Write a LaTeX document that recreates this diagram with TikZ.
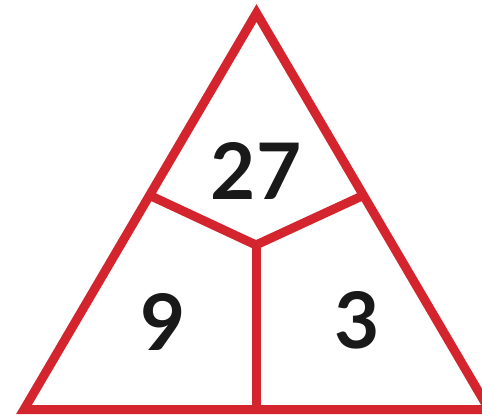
\documentclass[tikz,border=0pt]{standalone}
\usepackage{fontspec}
\setmainfont{Lato}
\usetikzlibrary{positioning}
\definecolor{trired}{RGB}{212,36,46}
\tikzset{
  edge/.style = {draw=trired, line width=9pt, line join=miter},
  num/.style  = {font=\fontsize{78}{78}\selectfont\bfseries, text=black!90, inner sep=0pt}
}

\begin{document}
\begin{tikzpicture}[x=1pt, y=-1pt]
  \useasboundingbox (0,0) rectangle (482,417);
  \clip (0,0) rectangle (482,417);
  \coordinate (top) at (256.5,13);
  \coordinate (bl) at (24,409.5);
  \coordinate (br) at (489,409.5);
  \coordinate (mid) at (256,245);
  \coordinate (ls) at (151,196);
  \coordinate (rs) at (362,196);
  \coordinate (bm) at (256,409.5);
  \draw[edge] (top) -- (bl) -- (br) -- cycle;
  \draw[edge] (ls) -- (mid) -- (rs);
  \draw[edge] (mid) -- (bm);
  \node[num] (topnum) at (256,171) {27};
  \node[num] (leftnum) at (163,322) {9};
  \node[num] (rightnum) at (357,320) {3};
\end{tikzpicture}
\end{document}
